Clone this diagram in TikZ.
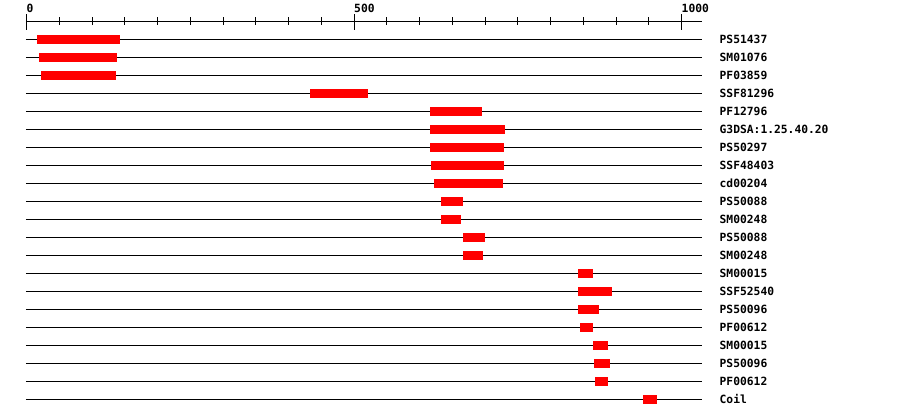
\documentclass[tikz,border=0pt]{standalone}
\usepackage{fontspec}
\setmonofont{DejaVu Sans Mono}
\usetikzlibrary{positioning}

\begin{document}
\begin{tikzpicture}[x=1pt,y=-1pt,
  track/.style={line width=1pt},
  hit/.style={fill=red},
  lab/.style={font=\ttfamily\bfseries\fontsize{11.3}{12}\selectfont,inner sep=0pt,anchor=base west}]
  \useasboundingbox[fill=white] (0,0) rectangle (900,418);
  \begin{scope}[xshift=26.5pt,x=0.655pt]
    \draw[track] (-0.8,21.5) -- (1031,21.5);
    \foreach \t in {0,50,...,1000}
      \draw[track] (\t,17) -- (\t,25);
    \foreach \t in {0,500,1000} {
      \draw[track] (\t,14) -- (\t,29.5);
      \node[lab] (ax\t) at (\t,12.4) {\t};
    }
    \foreach \name/\a/\b [count=\i] in {
      PS51437/16/143, SM01076/19/138, PF03859/22/137, SSF81296/433/521,
      PF12796/616/695, G3DSA:1.25.40.20/616/730, PS50297/616/729,
      SSF48403/618/729, cd00204/622/727, PS50088/633/666, SM00248/633/663,
      PS50088/666/700, SM00248/666/697, SM00015/842/865, SSF52540/842/894,
      PS50096/842/874, PF00612/845/865, SM00015/865/888, PS50096/866/891,
      PF00612/868/888, Coil/941/963} {
      \pgfmathsetmacro\yy{21.5+18*\i}
      \draw[track] (-0.8,\yy) -- (1031,\yy);
      \fill[hit] (\a,\yy-4.5) rectangle (\b,\yy+4.5);
      \node[lab] (row\i) at (1058,\yy+4) {\name};
    }
  \end{scope}
\end{tikzpicture}
\end{document}
